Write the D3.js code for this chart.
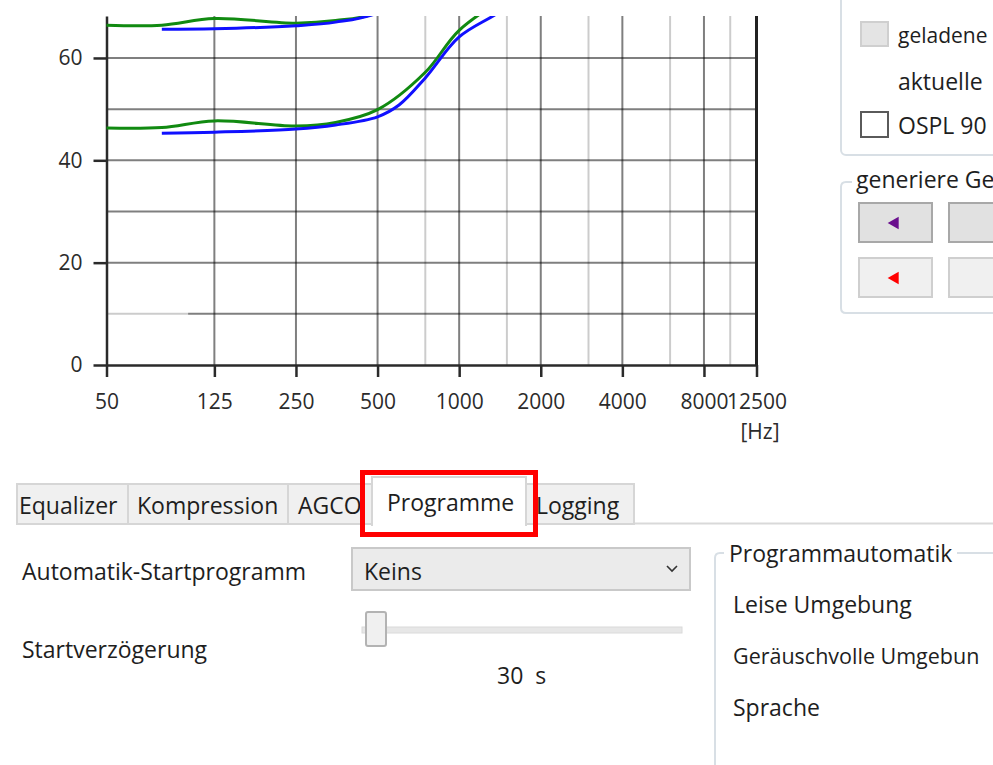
<!DOCTYPE html>
<html><head><meta charset="utf-8">
<script src="https://cdn.jsdelivr.net/npm/d3@7"></script>
<style>
body{margin:0;background:#fff;overflow:hidden}
svg{display:block;font-family:"Open Sans",sans-serif}
</style></head><body>
<svg id="c" width="993" height="765"></svg>
<script>
// ---- chart data ----
const xTickFreqs = [50, 125, 250, 500, 1000, 2000, 4000, 8000, 12500];
const xMajorGrid = [125, 250, 500, 1000, 2000, 4000, 8000];
const xMinorGrid = [750, 1500, 3000, 6000, 10000];
const yTickValues = [0, 20, 40, 60];
const yGridValues = [10, 20, 30, 40, 50, 60];
const xUnitLabel = "[Hz]";

const greenUpperFreq = [50, 80, 125, 250, 350, 500, 750];
const greenUpperVal  = [66.4, 66.4, 67.7, 66.8, 67.3, 68.9, 76];
const greenLowerFreq = [50, 80, 125, 250, 350, 500, 750, 1000, 1500];
const greenLowerVal  = [46.3, 46.4, 47.7, 46.7, 47.4, 49.9, 57.2, 65.4, 72];
const blueUpperFreq  = [80, 125, 250, 350, 500, 750];
const blueUpperVal   = [65.6, 65.7, 66.3, 67.0, 68.8, 75];
const blueLowerFreq  = [80, 125, 250, 350, 500, 600, 750, 1000, 1400, 2000];
const blueLowerVal   = [45.3, 45.5, 46.1, 46.9, 48.5, 50.8, 56.1, 64.1, 68.9, 75];

// ---- UI texts (as visible in the cropped screenshot) ----
const tabLabels = ["Equalizer", "Kompression", "AGCO", "Programme", "Logging"];
const panelTexts = ["geladene", "aktuelle", "OSPL 90"];
const groupTitles = ["generiere Ge", "Programmautomatik"];
const autoItems = ["Leise Umgebung", "Geräuschvolle Umgebun", "Sprache"];

const svg = d3.select("#c");
const FONT = 23;
const TXT = "#1e1e1e";

const x = d3.scaleLog().domain([50, 12500]).range([106.5, 756.5]);
const y = d3.scaleLinear().domain([0, 68.2]).range([365, 16]);

svg.append("defs").append("clipPath").attr("id", "plotclip")
  .append("rect").attr("x", 106).attr("y", 16).attr("width", 651).attr("height", 349);

const g = svg.append("g");
// grid
g.selectAll(".hg").data(yGridValues).join("line")
  .attr("x1", d => d === 10 ? x(100) : x(50)).attr("x2", x(12500))
  .attr("y1", d => y(d)).attr("y2", d => y(d))
  .attr("stroke", "#000").attr("stroke-opacity", 0.5).attr("stroke-width", 2);
g.append("line").attr("x1", x(50)).attr("x2", x(100)).attr("y1", y(10)).attr("y2", y(10))
  .attr("stroke", "#000").attr("stroke-opacity", 0.2).attr("stroke-width", 2);
g.selectAll(".vm").data(xMinorGrid).join("line")
  .attr("x1", d => x(d)).attr("x2", d => x(d)).attr("y1", y.range()[1]).attr("y2", y(0))
  .attr("stroke", "#000").attr("stroke-opacity", 0.2).attr("stroke-width", 2);
g.selectAll(".vM").data(xMajorGrid).join("line")
  .attr("x1", d => x(d)).attr("x2", d => x(d)).attr("y1", y.range()[1]).attr("y2", y(0))
  .attr("stroke", "#000").attr("stroke-opacity", 0.5).attr("stroke-width", 2);
// right border
g.append("line").attr("x1", x(12500)).attr("x2", x(12500)).attr("y1", y.range()[1]).attr("y2", y(0))
  .attr("stroke", "#222").attr("stroke-width", 3);

// axes
const ax = g.append("g").attr("transform", "translate(0,365)")
  .call(d3.axisBottom(x).tickValues(xTickFreqs).tickFormat(d3.format("d")).tickSize(12).tickSizeOuter(0));
const ay = g.append("g").attr("transform", "translate(106.5,0)")
  .call(d3.axisLeft(y).tickValues(yTickValues).tickSize(13).tickSizeOuter(0));
[ax, ay].forEach(a => {
  a.select(".domain").attr("stroke", "#2a2a2a").attr("stroke-width", 2.5);
  a.selectAll(".tick line").attr("stroke", "#2a2a2a").attr("stroke-width", 2.5);
  a.selectAll("text").attr("fill", "#2b2b2b").style("font-size", "21px")
    .style("font-family", '"Open Sans",sans-serif');
});
ax.selectAll("text").attr("y", 29);
ay.selectAll("text").attr("x", -24);
g.append("text").attr("x", 760).attr("y", 439).attr("text-anchor", "middle")
  .attr("fill", "#2b2b2b").style("font-size", "21px").text(xUnitLabel);

// curves
const line = d3.line().x(d => x(d[0])).y(d => y(d[1])).curve(d3.curveCatmullRom.alpha(0.5));
const series = [
  [greenUpperFreq, greenUpperVal, "#118a11"],
  [greenLowerFreq, greenLowerVal, "#118a11"],
  [blueUpperFreq, blueUpperVal, "#1010ff"],
  [blueLowerFreq, blueLowerVal, "#1010ff"]
];
const cg = g.append("g").attr("clip-path", "url(#plotclip)");
series.forEach(([f, v, c]) => {
  cg.append("path").datum(f.map((d, i) => [d, v[i]]))
    .attr("d", line).attr("fill", "none").attr("stroke", c).attr("stroke-width", 3);
});

// ---- right panel ----
const gb = "#d8dfe5";
const txt = (sel, t, xx, yy, size, anchor) => sel.append("text").attr("x", xx).attr("y", yy)
  .attr("fill", TXT).style("font-size", (size || FONT) + "px").attr("text-anchor", anchor || "start").text(t);

svg.append("rect").attr("x", 841).attr("y", -20).attr("width", 200).attr("height", 175).attr("rx", 5)
  .attr("fill", "none").attr("stroke", gb).attr("stroke-width", 2);
svg.append("rect").attr("x", 861).attr("y", 22).attr("width", 27).attr("height", 24)
  .attr("fill", "#e4e4e4").attr("stroke", "#cfcfcf").attr("stroke-width", 2);
txt(svg, panelTexts[0], 898, 43, 21);
txt(svg, panelTexts[1], 898, 90);
svg.append("rect").attr("x", 861).attr("y", 112).attr("width", 27).attr("height", 25)
  .attr("fill", "#fff").attr("stroke", "#5a5a5a").attr("stroke-width", 2);
txt(svg, panelTexts[2], 898, 134);

svg.append("path").attr("d", "M852,182 H846 Q841,182 841,187 V308 Q841,313 846,313 H1010")
  .attr("fill", "none").attr("stroke", gb).attr("stroke-width", 2);
txt(svg, groupTitles[0], 856, 188);
const btns = [
  [859, 203, "#e1e1e1", "#a8a8a8", "#6a0f8e"],
  [949, 203, "#e1e1e1", "#a8a8a8", null],
  [859, 258, "#f0f0f0", "#cfcfcf", "#ff0000"],
  [949, 258, "#f0f0f0", "#cfcfcf", null]
];
btns.forEach(([bx, by, f, s, tc]) => {
  svg.append("rect").attr("x", bx).attr("y", by).attr("width", 73).attr("height", 39)
    .attr("fill", f).attr("stroke", s).attr("stroke-width", 2);
  if (tc) svg.append("path").attr("d", d3.symbol(d3.symbolTriangle, 70))
    .attr("transform", `translate(${bx + 36},${by + 20}) rotate(-90)`).attr("fill", tc);
});

// ---- bottom tabs ----
svg.append("line").attr("x1", 17).attr("x2", 993).attr("y1", 523.5).attr("y2", 523.5)
  .attr("stroke", "#d9d9d9").attr("stroke-width", 2);
const tabs = [
  [17, 128, 484, 40, "#f0f0f0", 19],
  [128, 288, 484, 40, "#f0f0f0", 137],
  [288, 380, 484, 40, "#f0f0f0", 298],
  [372, 526, 477, 48, "#ffffff", 387],
  [526, 634, 484, 40, "#f0f0f0", 536]
];
const order = [0, 1, 2, 4, 3];
order.forEach(i => {
  const [x0, x1, ty, th, f, tx] = tabs[i];
  svg.append("rect").attr("x", x0).attr("y", ty).attr("width", x1 - x0).attr("height", th)
    .attr("fill", f).attr("stroke", "#d6d6d6").attr("stroke-width", 2);
  txt(svg, tabLabels[i], tx, i === 3 ? 511 : 514);
});
// cover bottom of selected tab
svg.append("rect").attr("x", 373).attr("y", 520).attr("width", 152).attr("height", 6).attr("fill", "#fff");
svg.append("rect").attr("x", 362.5).attr("y", 472.5).attr("width", 173).attr("height", 62)
  .attr("fill", "none").attr("stroke", "#ff0000").attr("stroke-width", 5);

txt(svg, "Automatik-Startprogramm", 22, 580);
svg.append("rect").attr("x", 352).attr("y", 548).attr("width", 338).attr("height", 42)
  .attr("fill", "#ebebeb").attr("stroke", "#c9c9c9").attr("stroke-width", 2);
txt(svg, "Keins", 364, 580);
svg.append("path").attr("d", "M667,566 L672,571 L677,566").attr("fill", "none")
  .attr("stroke", "#333").attr("stroke-width", 1.6);

txt(svg, "Startverzögerung", 22, 658);
svg.append("rect").attr("x", 362).attr("y", 627).attr("width", 320).attr("height", 6)
  .attr("fill", "#e7e7e7").attr("stroke", "#dadada").attr("stroke-width", 1);
svg.append("rect").attr("x", 366).attr("y", 612).attr("width", 20).attr("height", 34).attr("rx", 2)
  .attr("fill", "#f0f0f0").attr("stroke", "#b3b3b3").attr("stroke-width", 2);
txt(svg, "30  s", 497, 684).style("white-space", "pre");

svg.append("path").attr("d", "M724,553 H720 Q715,553 715,558 V780")
  .attr("fill", "none").attr("stroke", gb).attr("stroke-width", 2);
svg.append("line").attr("x1", 957).attr("x2", 993).attr("y1", 553).attr("y2", 553)
  .attr("stroke", gb).attr("stroke-width", 2);
txt(svg, groupTitles[1], 729, 562);
autoItems.forEach((t, i) => txt(svg, t, 733, [613, 664, 716][i], i === 1 ? 21.5 : FONT));
</script>
</body></html>
